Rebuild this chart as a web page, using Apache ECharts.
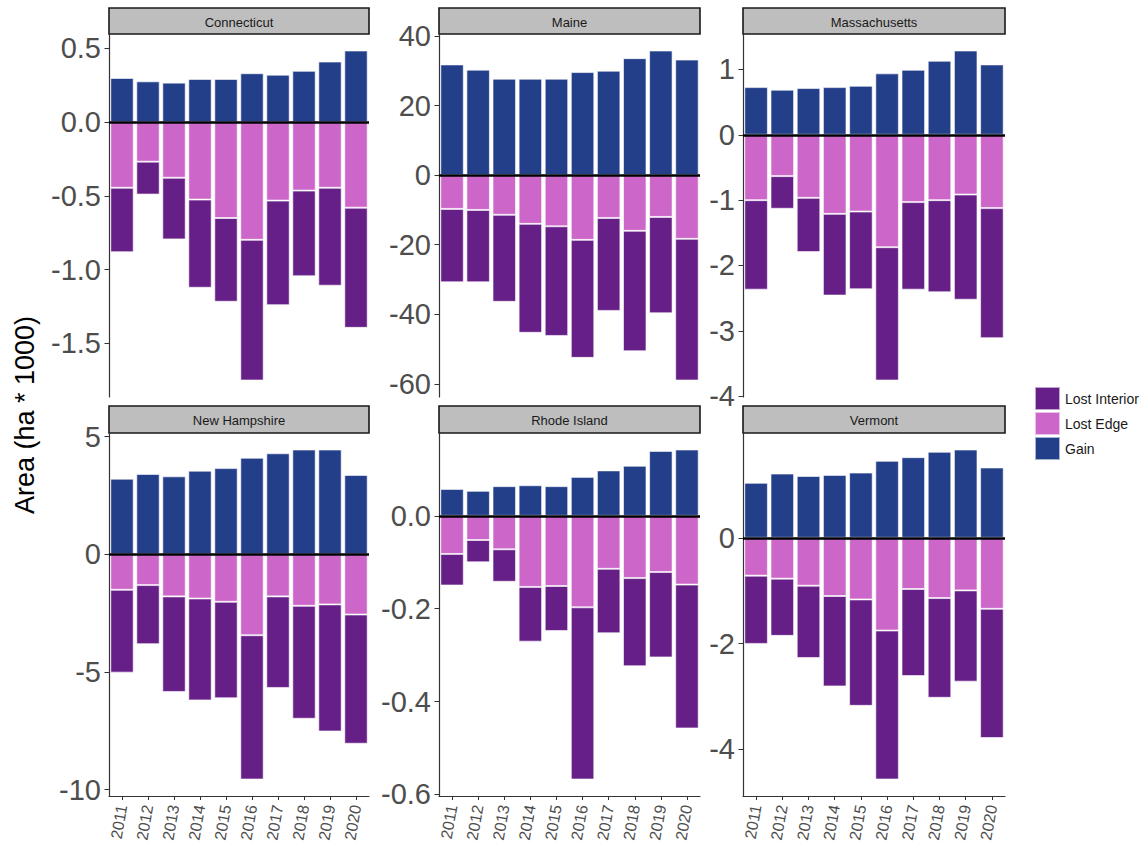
<!DOCTYPE html>
<html><head><meta charset="utf-8">
<script src="https://cdn.jsdelivr.net/npm/echarts@6/dist/echarts.min.js"></script>
<style>html,body{margin:0;padding:0;background:#fff}#c{width:1148px;height:854px}</style>
</head><body><div id="c"></div>
<script>
// ---------- data ----------
const years = ['2011','2012','2013','2014','2015','2016','2017','2018','2019','2020'];
const seriesNames = ['Lost Interior', 'Lost Edge', 'Gain'];
const states = ['Connecticut', 'Maine', 'Massachusetts', 'New Hampshire', 'Rhode Island', 'Vermont'];

const gainCT = [0.300, 0.277, 0.268, 0.293, 0.293, 0.332, 0.322, 0.348, 0.411, 0.486];
const edgeCT = [-0.445, -0.268, -0.377, -0.525, -0.650, -0.798, -0.532, -0.464, -0.445, -0.580];
const interiorCT = [-0.437, -0.223, -0.418, -0.598, -0.568, -0.954, -0.709, -0.581, -0.664, -0.815];

const gainME = [31.8, 30.3, 27.7, 27.7, 27.7, 29.6, 30.0, 33.6, 35.8, 33.2];
const edgeME = [-9.7, -10.0, -11.4, -14.0, -14.7, -18.6, -12.3, -16.0, -12.0, -18.3];
const interiorME = [-21.1, -20.8, -25.0, -31.3, -31.5, -33.9, -26.7, -34.6, -27.7, -40.7];

const gainMA = [0.73, 0.69, 0.715, 0.73, 0.75, 0.94, 0.995, 1.133, 1.29, 1.077];
const edgeMA = [-1.0, -0.632, -0.965, -1.21, -1.174, -1.72, -1.03, -1.0, -0.914, -1.122];
const interiorMA = [-1.37, -0.50, -0.83, -1.25, -1.19, -2.04, -1.34, -1.41, -1.61, -1.99];

const gainNH = [3.21, 3.41, 3.31, 3.55, 3.66, 4.10, 4.29, 4.45, 4.45, 3.37];
const edgeNH = [-1.51, -1.31, -1.79, -1.88, -2.02, -3.44, -1.79, -2.19, -2.13, -2.56];
const interiorNH = [-3.52, -2.51, -4.06, -4.33, -4.10, -6.13, -3.89, -4.80, -5.40, -5.49];

const gainRI = [0.058, 0.054, 0.064, 0.066, 0.064, 0.084, 0.098, 0.108, 0.140, 0.143];
const edgeRI = [-0.082, -0.052, -0.072, -0.153, -0.151, -0.197, -0.114, -0.134, -0.121, -0.148];
const interiorRI = [-0.068, -0.048, -0.070, -0.118, -0.097, -0.371, -0.139, -0.190, -0.184, -0.310];

const gainVT = [1.04, 1.215, 1.17, 1.19, 1.234, 1.456, 1.525, 1.627, 1.67, 1.33];
const edgeVT = [-0.715, -0.772, -0.905, -1.10, -1.165, -1.753, -0.968, -1.139, -0.994, -1.342];
const interiorVT = [-1.291, -1.082, -1.367, -1.71, -2.012, -2.817, -1.646, -1.886, -1.726, -2.443];

const ticksCT = ['0.5', '0.0', '-0.5', '-1.0', '-1.5'];
const ticksME = ['40', '20', '0', '-20', '-40', '-60'];
const ticksMA = ['1', '0', '-1', '-2', '-3', '-4'];
const ticksNH = ['5', '0', '-5', '-10'];
const ticksRI = ['0.0', '-0.2', '-0.4', '-0.6'];
const ticksVT = ['0', '-2', '-4'];

const yTitle = 'Area (ha * 1000)';

// ---------- assembly ----------
const panels = [
  { gain: gainCT, edge: edgeCT, interior: interiorCT, ticks: ticksCT },
  { gain: gainME, edge: edgeME, interior: interiorME, ticks: ticksME },
  { gain: gainMA, edge: edgeMA, interior: interiorMA, ticks: ticksMA },
  { gain: gainNH, edge: edgeNH, interior: interiorNH, ticks: ticksNH },
  { gain: gainRI, edge: edgeRI, interior: interiorRI, ticks: ticksRI },
  { gain: gainVT, edge: edgeVT, interior: interiorVT, ticks: ticksVT }
];

const FONT = 'Liberation Sans, Arial, sans-serif';
const colX = [[109, 369], [439, 700], [743, 1005]];
const rows = [{ strip: [8, 34], plot: [34, 397] }, { strip: [406, 433], plot: [433, 796] }];
const colors = { 'Lost Interior': '#661F87', 'Lost Edge': '#CC66C8', 'Gain': '#243F8A' };

const grids = [], xAxes = [], yAxes = [], series = [], graphics = [];

panels.forEach((p, i) => {
  const col = i % 3, row = Math.floor(i / 3);
  const [x0, x1] = colX[col];
  const r = rows[row];
  grids.push({ left: x0, width: x1 - x0, top: r.plot[0], height: r.plot[1] - r.plot[0], outerBoundsMode: 'none', containLabel: false });

  // ggplot-like 5% expansion of the data range
  const totals = p.edge.map((v, k) => v + p.interior[k]);
  const lo = Math.min(0, ...totals), hi = Math.max(0, ...p.gain);
  const R = hi - lo;
  const yMin = lo - 0.05 * R, yMax = hi + 0.05 * R;
  const tickVals = p.ticks.map(parseFloat);
  const labelMap = {};
  p.ticks.forEach(t => { labelMap[String(parseFloat(t))] = t; });

  const bottom = row === 1;
  xAxes.push({
    type: 'category', gridIndex: i, data: years,
    axisLine: { show: bottom, onZero: false, lineStyle: { color: '#333', width: 1.2 } },
    axisTick: { show: bottom, alignWithLabel: true, length: 4, lineStyle: { color: '#333' } },
    axisLabel: { show: bottom, rotate: 80, fontSize: 16, color: '#4d4d4d', fontFamily: FONT, margin: 9 },
    splitLine: { show: false }
  });
  yAxes.push({
    type: 'value', gridIndex: i, min: yMin, max: yMax,
    axisLine: { show: true, lineStyle: { color: '#333', width: 1.2 } },
    axisTick: { show: true, length: 4.5, customValues: tickVals, lineStyle: { color: '#333' } },
    axisLabel: {
      show: true, customValues: tickVals, fontSize: 29, color: '#4d4d4d', fontFamily: FONT, margin: 8,
      showMinLabel: true, showMaxLabel: true,
      formatter: v => labelMap[String(v)] !== undefined ? labelMap[String(v)] : ''
    },
    splitLine: { show: false }
  });

  const common = { type: 'bar', stack: 'panel' + i, xAxisIndex: i, yAxisIndex: i, barWidth: '90%' };
  const border = { borderColor: 'rgba(255,255,255,0.6)', borderWidth: 1 };
  series.push(Object.assign({}, common, { name: 'Lost Edge', data: p.edge, itemStyle: Object.assign({ color: colors['Lost Edge'] }, border) }));
  series.push(Object.assign({}, common, { name: 'Lost Interior', data: p.interior, itemStyle: Object.assign({ color: colors['Lost Interior'] }, border) }));
  series.push(Object.assign({}, common, {
    name: 'Gain', data: p.gain, itemStyle: Object.assign({ color: colors['Gain'] }, border),
    markLine: {
      silent: true, symbol: 'none', label: { show: false },
      lineStyle: { color: '#000', width: 2.6, type: 'solid' },
      emphasis: { disabled: true },
      data: [{ yAxis: 0 }]
    }
  }));

  // facet strip
  graphics.push({
    type: 'rect', shape: { x: x0, y: r.strip[0], width: x1 - x0, height: r.strip[1] - r.strip[0] },
    style: { fill: '#bebebe', stroke: '#1a1a1a', lineWidth: 1.6 }
  });
  graphics.push({
    type: 'text', x: (x0 + x1) / 2, y: (r.strip[0] + r.strip[1]) / 2 + 1,
    style: { text: states[i], fontSize: 13, fontFamily: FONT, fill: '#1a1a1a', align: 'center', verticalAlign: 'middle' }
  });
});

graphics.push({
  type: 'text', x: 25, y: 415, rotation: Math.PI / 2,
  style: { text: yTitle, fontSize: 27, fontFamily: FONT, fill: '#000', align: 'center', verticalAlign: 'middle' }
});

const chart = echarts.init(document.getElementById('c'), null, { renderer: 'svg' });
chart.setOption({
  animation: false,
  backgroundColor: '#fff',
  textStyle: { fontFamily: FONT },
  grid: grids, xAxis: xAxes, yAxis: yAxes, series: series,
  legend: {
    data: seriesNames, orient: 'vertical', left: 1029, top: 381,
    itemWidth: 25, itemHeight: 23, itemGap: 0, icon: 'rect',
    textStyle: { fontSize: 14, color: '#1a1a1a', fontFamily: FONT }
  },
  graphic: graphics
});
</script></body></html>
